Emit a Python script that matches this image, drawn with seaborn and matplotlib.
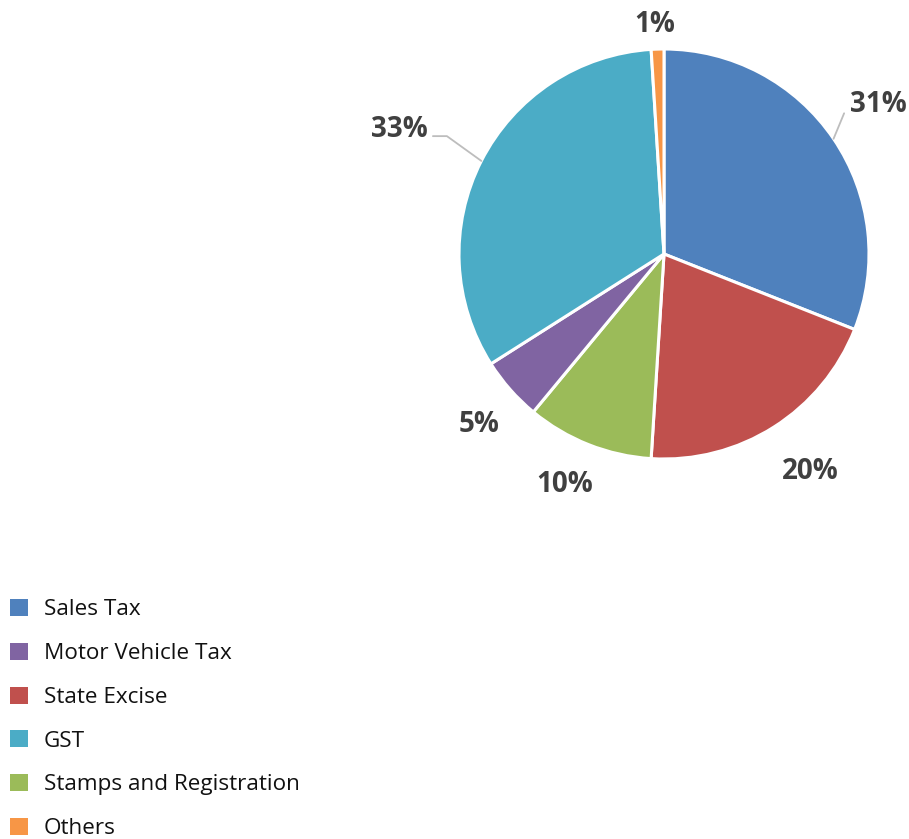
import numpy as np
import matplotlib
matplotlib.use("Agg")
import matplotlib.pyplot as plt
from matplotlib.patches import Patch
import seaborn as sns

# Revenue shares (%) in pie order, clockwise from 12 o'clock
categories = ["Sales Tax", "State Excise", "Stamps and Registration",
              "Motor Vehicle Tax", "GST", "Others"]
shares = [31, 20, 10, 5, 33, 1]

# Order of entries in the legend
legend_order = ["Sales Tax", "Motor Vehicle Tax", "State Excise", "GST",
                "Stamps and Registration", "Others"]

sns.set_theme(style="white")
plt.rcParams["font.family"] = ["Open Sans", "DejaVu Sans"]

palette = dict(zip(
    ["Sales Tax", "State Excise", "Stamps and Registration",
     "Motor Vehicle Tax", "GST", "Others"],
    sns.color_palette(["#4F81BD", "#C0504D", "#9BBB59",
                       "#8064A2", "#4BACC6", "#F79646"])))

W, H = 909, 839
fig = plt.figure(figsize=(W / 100, H / 100), dpi=100)
fig.patch.set_facecolor("white")

# pie placed by pixel centre / radius
cx, cy, R = 664, 254, 205
ax = fig.add_axes([(cx - R) / W, (H - cy - R) / H, 2 * R / W, 2 * R / H])

wedges, _ = ax.pie(shares, colors=[palette[c] for c in categories],
                   startangle=90, counterclock=False, radius=1.0,
                   wedgeprops=dict(edgecolor="white", linewidth=2.2))
ax.set_xlim(-1, 1)
ax.set_ylim(-1, 1)
ax.set_aspect("equal")
ax.axis("off")

# label distance (in radii), angular nudge (deg) and vertical nudge (px)
label_dist = [1.29, 1.26, 1.21, 1.21, 1.43, 1.13]
label_shift = [1.5, 2, -2, 0.5, 1.5, 0.5]
label_drop = [5, 4, 3, 5, 2, 2]
leader_color = "#BDBDBD"
for i, (w, v) in enumerate(zip(wedges, shares)):
    mid = np.deg2rad((w.theta1 + w.theta2) / 2 + label_shift[i])
    d = label_dist[i]
    tx, ty = d * np.cos(mid), d * np.sin(mid) - label_drop[i] / R
    ax.text(tx, ty, f"{v}%", ha="center", va="center", fontsize=20,
            fontweight="bold", color="#404040", clip_on=False)
    m0 = np.deg2rad((w.theta1 + w.theta2) / 2)
    if categories[i] == "Sales Tax":
        p0 = (1.0 * np.cos(m0), 1.0 * np.sin(m0))
        p1 = (1.115 * np.cos(np.deg2rad(38)), 1.115 * np.sin(np.deg2rad(38)))
        ax.plot([p0[0], p1[0]], [p0[1], p1[1]], color=leader_color,
                lw=1.3, clip_on=False)
    if categories[i] == "GST":
        p0 = (1.0 * np.cos(m0), 1.0 * np.sin(m0))
        p1 = (1.205 * np.cos(np.deg2rad(151.5)), 1.205 * np.sin(np.deg2rad(151.5)))
        p2 = (p1[0] - 14 / R, p1[1])
        ax.plot([p0[0], p1[0], p2[0]], [p0[1], p1[1], p2[1]],
                color=leader_color, lw=1.3, clip_on=False)

handles = [Patch(facecolor=palette[c], edgecolor="none") for c in legend_order]
leg = fig.legend(handles, legend_order, loc="upper left",
                 bbox_to_anchor=(10 / W, 1 - 599 / H), frameon=False,
                 fontsize=16.2, handlelength=0.78, handleheight=0.78,
                 handletextpad=0.72, labelspacing=1.0, borderpad=0,
                 borderaxespad=0)
for t in leg.get_texts():
    t.set_color("#111111")

fig.savefig("out.png", dpi=100, facecolor="white")
